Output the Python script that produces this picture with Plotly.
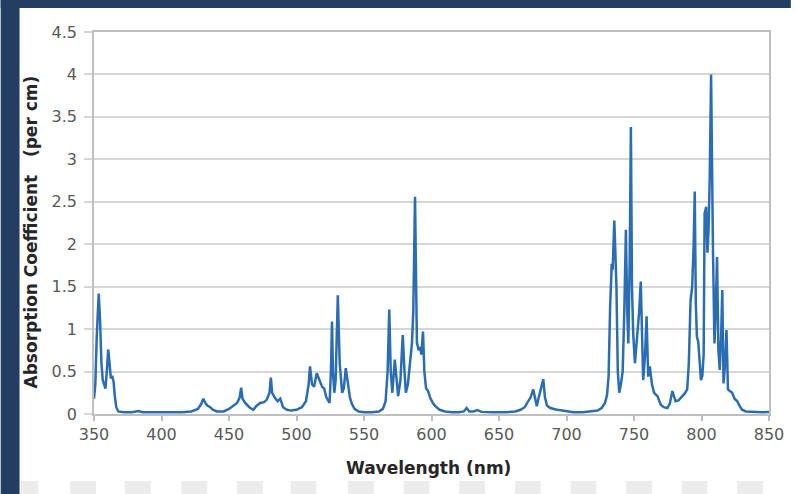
import plotly.graph_objects as go

# Absorption spectrum: wavelength (nm) and absorption coefficient (per cm)
wavelength = [
    350, 351, 352, 353, 353.5, 354.5, 355.5, 356.5, 357.5, 358.5, 359.5, 360.5, 361.5,
    362.5, 363.5, 364.5, 365.5, 366.5, 368, 372, 378, 383, 386, 395, 405, 415, 422,
    427, 429.5, 431, 432.5, 434, 436, 438, 441, 446, 450, 453, 456, 458, 459, 460, 462,
    465, 468, 470, 473, 476, 478, 480, 481, 482, 484, 486, 488, 490, 493, 496, 500,
    504, 507, 509, 510, 511.5, 513, 515, 517, 519, 520.5, 522, 524.5, 525.5, 526.3,
    527, 528, 529, 530.6, 532, 533.8, 535, 536.5, 538, 539.5, 541, 543, 546, 550, 556,
    561, 564, 566, 567.5, 568.7, 569.8, 571, 572.8, 574, 575.3, 577, 578.7, 580, 581,
    582.5, 584, 585.5, 586.5, 587.3, 587.8, 588.4, 589.2, 590.5, 591.5, 592.5, 593.7,
    594.7, 596, 597.5, 599, 601, 603, 606, 610, 615, 620, 624, 626, 628, 631, 634, 637,
    645, 655, 662, 666, 669, 671.7, 673.5, 675.4, 677, 678, 679.2, 680.3, 681.5, 682.8,
    684, 685.5, 688, 690, 693, 697, 700, 705, 712, 716, 720, 723, 726, 728.5, 730,
    731.2, 732.3, 733.5, 734.2, 735.4, 736.2, 737, 738, 739.1, 740.3, 741.6, 742.8, 744,
    745, 745.8, 746.8, 747.7, 748.5, 749.4, 750.7, 751.8, 752.6, 753.8, 755, 756, 756.8,
    758.2, 759.3, 760.5, 761.7, 763.3, 764.9, 767.4, 769.8, 772, 774.7, 776.5, 778.4,
    780.8, 783, 785.8, 787.5, 789.4, 790.6, 791.9, 793.1, 794.2, 795, 795.8, 796.6,
    797.6, 798.6, 799.6, 800.6, 801.6, 802.3, 803.5, 804.4, 805.3, 806.1, 807.1, 808.5,
    809.6, 810.5, 811.5, 812.5, 813.5, 814.5, 815.4, 816.3, 817.5, 818.5, 819.6, 821,
    822.7, 824.5, 826.5, 828, 830, 833, 840, 845, 850,
]
absorption = [
    0.18, 0.35, 0.9, 1.3, 1.42, 1.1, 0.6, 0.4, 0.33, 0.3, 0.5, 0.76, 0.6,
    0.42, 0.45, 0.38, 0.2, 0.08, 0.03, 0.02, 0.02, 0.035, 0.02, 0.02, 0.015, 0.02, 0.03,
    0.06, 0.12, 0.18, 0.13, 0.1, 0.08, 0.05, 0.03, 0.03, 0.06, 0.1, 0.13, 0.2, 0.31, 0.18, 0.13,
    0.08, 0.05, 0.09, 0.13, 0.14, 0.17, 0.25, 0.43, 0.25, 0.19, 0.15, 0.18, 0.08, 0.05, 0.04, 0.05,
    0.08, 0.15, 0.35, 0.56, 0.35, 0.32, 0.48, 0.4, 0.32, 0.3, 0.2, 0.13, 0.5, 1.09,
    0.5, 0.25, 0.4, 1.40, 0.6, 0.25, 0.3, 0.54, 0.35, 0.2, 0.12, 0.06, 0.03, 0.02, 0.02,
    0.03, 0.06, 0.15, 0.5, 1.23, 0.5, 0.25, 0.64, 0.4, 0.21, 0.4, 0.93, 0.5, 0.25,
    0.35, 0.58, 0.83, 1.2, 2.0, 2.56, 1.8, 0.84, 0.75, 0.79, 0.7, 0.97,
    0.5, 0.3, 0.27, 0.19, 0.13, 0.09, 0.05, 0.03, 0.02, 0.02, 0.03, 0.07, 0.03, 0.03, 0.045, 0.025,
    0.02, 0.02, 0.03, 0.05, 0.08, 0.16, 0.2, 0.29, 0.15, 0.09, 0.18, 0.25, 0.3, 0.41,
    0.2, 0.1, 0.07, 0.06, 0.05, 0.04, 0.03, 0.02, 0.02, 0.025, 0.03, 0.04, 0.07, 0.13, 0.22,
    0.45, 1.26, 1.77, 1.7, 2.28, 1.9, 1.5, 0.5, 0.25, 0.35, 0.5, 1.2, 2.17,
    1.2, 0.83, 1.8, 3.38, 1.5, 0.95, 0.6, 0.8, 0.99, 1.2, 1.56, 0.8, 0.4,
    0.7, 1.15, 0.44, 0.56, 0.35, 0.25, 0.21, 0.11, 0.08, 0.07, 0.12, 0.27,
    0.15, 0.16, 0.21, 0.24, 0.29, 0.6, 1.34, 1.5, 2.0, 2.62, 1.3, 0.91,
    0.85, 0.64, 0.4, 0.45, 0.7, 2.36, 2.44, 1.9, 2.2, 2.8, 4.0, 1.93,
    0.83, 1.2, 1.85, 0.76, 0.52, 0.9, 1.46, 0.36, 0.6, 0.99, 0.29, 0.27,
    0.25, 0.18, 0.15, 0.1, 0.05, 0.03, 0.02, 0.02, 0.025,
]

x_ticks = [350, 400, 450, 500, 550, 600, 650, 700, 750, 800, 850]
y_ticks = [0, 0.5, 1, 1.5, 2, 2.5, 3, 3.5, 4, 4.5]
y_tick_text = ["0", "0.5", "1", "1.5", "2", "2.5", "3", "3.5", "4", "4.5"]

W, H = 796, 494
ML, MR, MT, MB = 94, 22, 32, 80
PW, PH = W - ML - MR, H - MT - MB


def px2x(px):
    return (px - ML) / PW


def py2y(py):
    return (H - MB - py) / PH


NAVY = "#223e62"
GRID = "#d6d6d6"

fig = go.Figure()
fig.add_trace(go.Scatter(
    x=wavelength, y=absorption, mode="lines",
    line=dict(color="#2b6db5", width=2.5),
    hoverinfo="skip", showlegend=False,
))

shapes = [
    # dark frame strips (left and top)
    dict(type="rect", xref="paper", yref="paper", x0=px2x(0), x1=px2x(19),
         y0=py2y(H), y1=py2y(0), fillcolor=NAVY, line_width=0, layer="above"),
    dict(type="rect", xref="paper", yref="paper", x0=px2x(0), x1=px2x(W),
         y0=py2y(8), y1=py2y(0), fillcolor=NAVY, line_width=0, layer="above"),
]
# faint tiles along the lower edge
for left in [20, 70, 125, 182, 238, 292, 350, 406, 462, 518, 574, 630, 686, 742]:
    shapes.append(dict(type="rect", xref="paper", yref="paper",
                       x0=px2x(left), x1=px2x(left + 26 if left > 20 else 38),
                       y0=py2y(494), y1=py2y(481),
                       fillcolor="#ececec", line_width=0, layer="above"))

fig.update_layout(
    width=W, height=H,
    margin=dict(l=ML, r=MR, t=MT, b=MB),
    paper_bgcolor="white", plot_bgcolor="white",
    font=dict(family="DejaVu Sans", color="#595959"),
    shapes=shapes,
    xaxis=dict(
        range=[350, 850], tickvals=x_ticks, ticktext=[str(v) for v in x_ticks],
        showgrid=False, zeroline=False,
        showline=True, linecolor="#bfbfbf", linewidth=1.5, mirror=True,
        ticks="outside", ticklen=5, tickcolor="#bfbfbf", tickwidth=1.5,
        tickfont=dict(size=16, color="#595959"),
    ),
    yaxis=dict(
        range=[0, 4.5], tickvals=y_ticks, ticktext=y_tick_text,
        showgrid=True, gridcolor=GRID, gridwidth=1.5, zeroline=False,
        showline=True, linecolor="#bfbfbf", linewidth=1.5, mirror=True,
        ticks="outside", ticklen=8, tickcolor=GRID, tickwidth=1.5,
        tickfont=dict(size=16, color="#595959"),
        ticklabelstandoff=4,
    ),
    annotations=[
        dict(text="<b>Wavelength (nm)</b>", xref="paper", yref="paper",
             x=px2x(431), y=py2y(468), xanchor="center", yanchor="middle",
             showarrow=False, font=dict(size=17, color="#262626")),
        dict(text="<b>Absorption Coefficient\u00a0\u00a0\u00a0(per cm)</b>",
             xref="paper", yref="paper", x=px2x(31), y=py2y(232),
             xanchor="center", yanchor="middle", textangle=-90,
             showarrow=False, font=dict(size=17, color="#262626")),
    ],
)

fig.write_html("out.html")
